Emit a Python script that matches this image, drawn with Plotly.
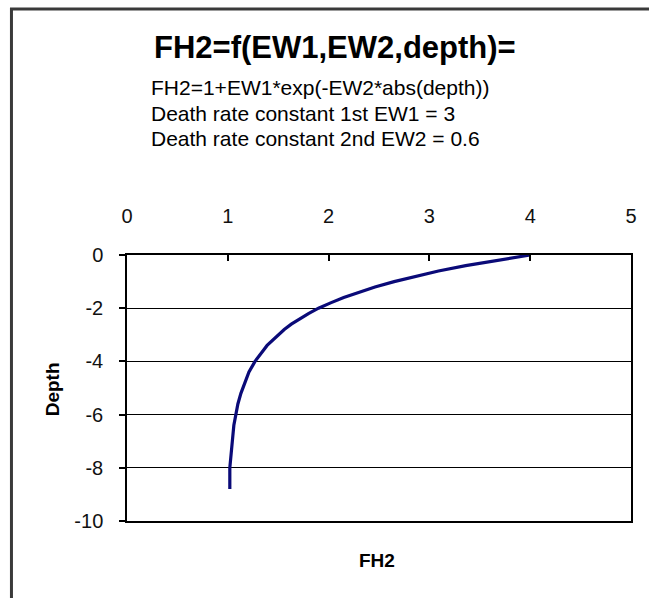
import plotly.graph_objects as go

# Data (FH2 vs depth)
depth = [0.0, -0.2, -0.4, -0.6, -0.8, -1.0, -1.2, -1.4, -1.6, -1.8, -2.0, -2.2, -2.4,
         -2.6, -2.8, -3.0, -3.2, -3.4, -3.6, -3.8, -4.0, -4.4, -4.8, -5.2, -5.6, -6.0,
         -6.4, -6.8, -7.2, -7.6, -8.0, -8.4, -8.8]
fh2 = [4.00, 3.66, 3.36, 3.09, 2.86, 2.65, 2.46, 2.30, 2.15, 2.02, 1.90, 1.80, 1.71,
       1.63, 1.56, 1.50, 1.44, 1.39, 1.35, 1.31, 1.27, 1.21, 1.17, 1.13, 1.10, 1.08,
       1.06, 1.05, 1.04, 1.03, 1.02, 1.02, 1.02]

x_ticks = [0, 1, 2, 3, 4, 5]
x_labels = ["0", "1", "2", "3", "4", "5"]
y_ticks = [0, -2, -4, -6, -8, -10]
y_labels = ["0", "-2", "-4", "-6", "-8", "-10"]

title_text = "FH2=f(EW1,EW2,depth)="
sub_lines = ["FH2=1+EW1*exp(-EW2*abs(depth))",
             "Death rate constant 1st EW1 = 3",
             "Death rate constant 2nd EW2 = 0.6"]

W, H = 649, 598
L, R, T, B = 127, 633, 255, 521
FONT = "Liberation Sans, Arial, sans-serif"

def px(x):
    return (x - L) / (R - L)

def py(y):
    return (B - y) / (B - T)

fig = go.Figure()
fig.add_trace(go.Scatter(x=fh2, y=depth, mode="lines",
                         line=dict(color="#0a0a78", width=3.2),
                         hoverinfo="skip", showlegend=False))

annotations = [
    dict(text="<b>" + title_text + "</b>", x=px(152), y=py(47), xanchor="left", yanchor="middle",
         font=dict(size=31, color="black", family=FONT)),
]
for txt, yc in zip(sub_lines, [87, 113.5, 138.3]):
    annotations.append(dict(text=txt, x=px(149.5), y=py(yc), xanchor="left", yanchor="middle",
                            font=dict(size=21, color="black", family=FONT)))
annotations.append(dict(text="<b>FH2</b>", x=px(378), y=py(560), xanchor="center", yanchor="middle",
                        font=dict(size=19, color="black", family=FONT)))
annotations.append(dict(text="<b>Depth</b>", x=px(52), y=py(389), xanchor="center", yanchor="middle",
                        textangle=-90, font=dict(size=19, color="black", family=FONT)))
for a in annotations:
    a.update(xref="paper", yref="paper", showarrow=False)

fig.update_layout(
    width=W, height=H,
    margin=dict(l=L, r=W - R, t=T, b=H - B, pad=0),
    paper_bgcolor="white", plot_bgcolor="white",
    font=dict(family=FONT, color="black", size=19),
    annotations=annotations,
    shapes=[dict(type="rect", xref="paper", yref="paper",
                 x0=px(11), x1=px(665), y0=py(615), y1=py(9),
                 line=dict(color="#3a3a3a", width=3), fillcolor="rgba(0,0,0,0)", layer="below")],
    xaxis=dict(range=[0, 5], side="top", tickvals=x_ticks, ticktext=x_labels,
               ticks="inside", ticklen=6,
               tickwidth=1.5, tickcolor="black", showline=True, linecolor="black", linewidth=1.5,
               mirror=True, showgrid=False, zeroline=False, ticklabelstandoff=22,
               tickfont=dict(size=20, color="#111111")),
    yaxis=dict(range=[-10, 0], tickvals=y_ticks, ticktext=y_labels,
               ticks="outside", ticklen=6,
               tickwidth=1.5, tickcolor="black", showline=True, linecolor="black", linewidth=1.5,
               mirror=True, showgrid=True, gridcolor="black", gridwidth=1.2, zeroline=False,
               ticklabelstandoff=12, tickfont=dict(size=20, color="#111111")),
)

fig.write_html("out.html", config={"displayModeBar": False},
               post_script="document.body.style.margin='0';document.body.style.overflow='hidden';")
